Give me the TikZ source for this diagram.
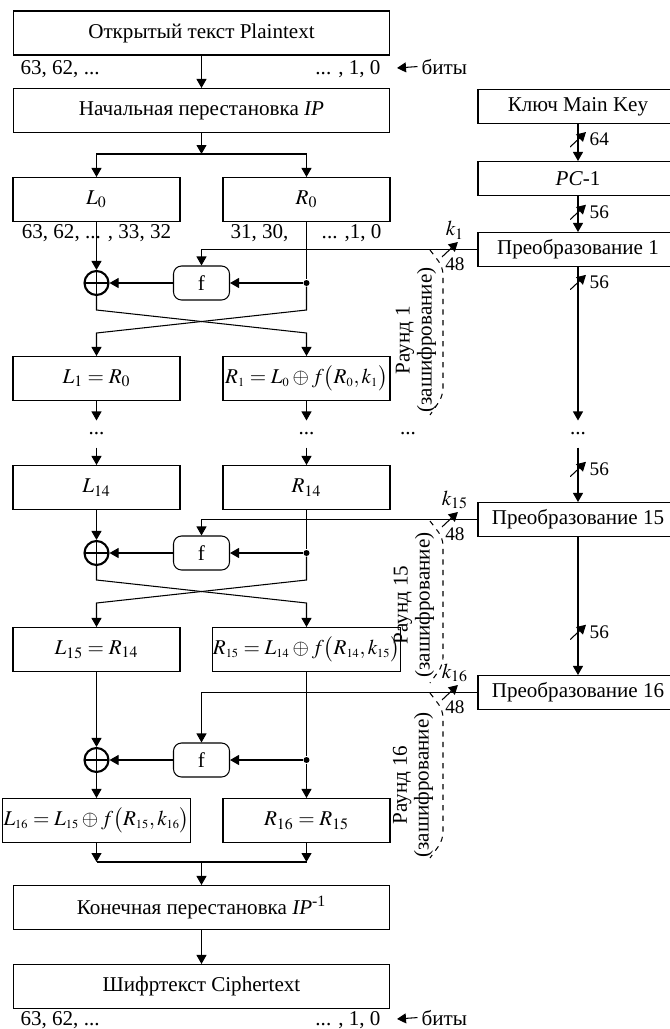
\documentclass[12pt,tikz,border=0pt]{standalone}
\usepackage{mathptmx}
\usepackage[no-math]{fontspec}
\setmainfont{Liberation Serif}
\usetikzlibrary{arrows.meta, positioning, calc}
\newcommand{\ssb}[1]{_{\scriptscriptstyle #1}}

\begin{document}
\begin{tikzpicture}[x=0.02cm, y=-0.02cm, line width=0.6pt,
    blk/.style={draw, minimum width=7.54cm, minimum height=0.88cm, inner sep=1pt},
    half/.style={draw, minimum width=3.34cm, minimum height=0.88cm, inner sep=0.5pt},
    kbox/.style={draw, minimum width=4cm, minimum height=0.68cm, inner sep=1pt},
    fbox/.style={draw, rounded corners=0.16cm, minimum width=1.12cm, minimum height=0.68cm},
    xorc/.style={circle, draw, line width=1.2pt, minimum size=0.48cm, inner sep=0,
                 path picture={\draw[line width=1pt] (path picture bounding box.west) -- (path picture bounding box.east)
                               (path picture bounding box.north) -- (path picture bounding box.south);}},
    dot/.style={circle, fill, inner sep=0, minimum size=0.12cm},
    arr/.style={-{Triangle[length=0.18cm, width=0.2cm]}},
    dts/.style={inner sep=0, minimum height=0.52cm},
    lbl/.style={inner sep=0},
    num/.style={font=\small, inner sep=1.5pt},
    bitcut/.style={inner sep=0, minimum width=0.32cm, minimum height=0.3cm,
                   path picture={\draw (path picture bounding box.south west) -- (path picture bounding box.north east);}},
    rnd/.style={dashed, rounded corners=0.15cm},
    rtxt/.style={rotate=90, align=center, inner sep=0, font=\fontsize{12}{12.5}\selectfont}
  ]
    \clip (0,0) rectangle (670,1029);

    % Main column
    \node[blk] (pt) at (201.5,33)  {Открытый текст Plaintext};
    \node[blk] (ip) at (201.5,110.5) {Начальная перестановка \textit{IP}};
    \node[half] (L0) at (96.5,199.5)  {$L_0$};
    \node[half] (R0) at (306.5,199.5) {$R_0$};

    % Bit labels
    \node[lbl, anchor=base west] at (20,74) {63, 62, ...};
    \node[lbl, anchor=base east] at (381,74) {... , 1, 0};
    \node[lbl, anchor=base west] (bits1) at (421,74) {биты};
    \coordinate (bt1) at (397,68);
    \node[lbl, anchor=base] at (96.5,238) {63, 62, ... , 33, 32};
    \node[lbl, anchor=base west] at (230,238) {31, 30,};
    \node[lbl, anchor=base east] at (382,238) {... ,1, 0};

    % Key column
    \node[kbox] (key) at (578,106.5) {Ключ Main Key};
    \node[kbox] (pc1) at (578,178.5) {\textit{PC}-1};
    \node[kbox] (t1)  at (578,249.5) {Преобразование 1};
    \node[dts]  (dk)  at (578,434) {...};
    \node[kbox] (t15) at (578,519.5) {Преобразование 15};
    \node[kbox] (t16) at (578,692.5) {Преобразование 16};

    % Round 1
    \node[xorc] (x1) at (96.5,283) {};
    \node[fbox] (f1) at (201.5,283) {f};
    \node[dot]  (d1) at (306.5,283) {};
    \coordinate (c1a) at (96.5,310);
    \coordinate (c1b) at (306.5,310);
    \coordinate (e1a) at (96.5,333);
    \coordinate (e1b) at (306.5,333);
    \node[half] (L1) at (96.5,378.5)  {$L_1 = R_0$};
    \node[half] (R1) at (306.5,378.5) {$R\ssb{1} = L\ssb{0} \oplus f\bigl(R\ssb{0}, k\ssb{1}\bigr)$};

    \node[dts] (dl) at (96.5,434) {...};
    \node[dts] (dr) at (306.5,434) {...};
    \node[dts] (dm) at (408,434) {...};

    \node[half] (L14) at (96.5,487.5)  {$L_{14}$};
    \node[half] (R14) at (306.5,487.5) {$R_{14}$};

    % Round 15
    \node[xorc] (x15) at (96.5,553) {};
    \node[fbox] (f15) at (201.5,553) {f};
    \node[dot]  (d15) at (306.5,553) {};
    \coordinate (c15a) at (96.5,580);
    \coordinate (c15b) at (306.5,580);
    \coordinate (e15a) at (96.5,603);
    \coordinate (e15b) at (306.5,603);
    \node[half] (L15) at (96.5,649.5)  {$L_{15} = R_{14}$};
    \node[half] (R15) at (306.5,649.5) {$R\ssb{15} = L\ssb{14} \oplus f\bigl(R\ssb{14}, k\ssb{15}\bigr)$};

    % Round 16
    \node[xorc] (x16) at (96.5,760) {};
    \node[fbox] (f16) at (201.5,760) {f};
    \node[dot]  (d16) at (306.5,760) {};
    \node[half] (L16) at (96.5,820.5)  {$L\ssb{16} = L\ssb{15} \oplus f\bigl(R\ssb{15}, k\ssb{16}\bigr)$};
    \node[half] (R16) at (306.5,820.5) {$R_{16} = R_{15}$};
    \coordinate (j0) at (96.5,862);
    \coordinate (j1) at (306.5,862);
    \coordinate (jm) at (201.5,862);

    \node[blk] (fp) at (201.5,907.5) {Конечная перестановка \textit{IP}\textsuperscript{-1}};
    \node[blk] (ct) at (201.5,986.5) {Шифртекст Ciphertext};
    \node[lbl, anchor=base west] at (20,1025) {63, 62, ...};
    \node[lbl, anchor=base east] at (381,1025) {... , 1, 0};
    \node[lbl, anchor=base west] (bits2) at (421,1025) {биты};
    \coordinate (bt2) at (397,1019);

    % Flow arrows
    \coordinate (s0) at (201.5,154);
    \draw[arr] (pt) -- (ip);
    \draw[arr] (ip) -- (s0);
    \draw[arr] (s0) -| (L0);
    \draw[arr] (s0) -| (R0);
    \draw[arr] ([xshift=-2pt]bits1.west) -- (bt1);
    \draw[arr] ([xshift=-2pt]bits2.west) -- (bt2);

    \draw[arr] (L0) -- (x1);
    \draw (R0) -- (d1);
    \draw[arr] (d1) -- (f1);
    \draw[arr] (f1) -- (x1);
    \draw[arr] (x1) -- (c1a) -- (e1b) -- (R1);
    \draw[arr] (d1) -- (c1b) -- (e1a) -- (L1);

    \foreach \a/\b in {L1/dl, R1/dr, dl/L14, dr/R14}
      \draw[arr] (\a) -- (\b);

    \draw[arr] (L14) -- (x15);
    \draw (R14) -- (d15);
    \draw[arr] (d15) -- (f15);
    \draw[arr] (f15) -- (x15);
    \draw[arr] (x15) -- (c15a) -- (e15b) -- (R15);
    \draw[arr] (d15) -- (c15b) -- (e15a) -- (L15);

    \draw[arr] (L15) -- (x16);
    \draw (R15) -- (d16);
    \draw[arr] (d16) -- (f16);
    \draw[arr] (f16) -- (x16);
    \draw[arr] (x16) -- (L16);
    \draw[arr] (d16) -- (R16);

    \draw[arr] (L16) -- (j0);
    \draw[arr] (R16) -- (j1);
    \draw (j0) -- (j1);
    \draw[arr] (jm) -- (fp);
    \draw[arr] (fp) -- (ct);

    % Key schedule
    \draw[arr] (key) -- node[bitcut, pos=.42, label={[num]east:64}] {} (pc1);
    \draw[arr] (pc1) -- node[bitcut, pos=.45, label={[num]east:56}] {} (t1);
    \draw[arr] (t1) -- node[bitcut, pos=.1, label={[num]east:56}] {} (dk);
    \draw[arr] (dk) -- node[bitcut, pos=.4, label={[num]east:56}] {} (t15);
    \draw[arr] (t15) -- node[bitcut, pos=.69, label={[num]east:56}] {} (t16);

    % Subkeys
    \draw[arr] (t1) -| node[bitcut, pos=.05,
        label={[lbl, anchor=south, xshift=0.1cm, yshift=1pt]north:$k_1$},
        label={[num, anchor=north, xshift=0.1cm, inner sep=0]south:48}] {} (f1);
    \draw[arr] (t15) -| node[bitcut, pos=.05,
        label={[lbl, anchor=south, xshift=0.1cm, yshift=1pt]north:$k_{15}$},
        label={[num, anchor=north, xshift=0.1cm, inner sep=0]south:48}] {} (f15);
    \draw[arr] (t16) -| node[bitcut, pos=.05,
        label={[lbl, anchor=south, xshift=0.1cm, yshift=1pt]north:$k_{16}$},
        label={[num, anchor=north, xshift=0.1cm, inner sep=0]south:48}] {} (f16);

    % Round brackets
    \draw[rnd] (430,250) -- (443,267) -- (443,396) -- (430,415);
    \draw[rnd] (430,521) -- (443,538) -- (443,665) -- (430,683);
    \draw[rnd] (430,693) -- (443,710) -- (443,840) -- (430,858);
    \node[rtxt] (rd1)  at (416,340) {Раунд 1\\(зашифрование)};
    \node[rtxt] (rd15) at (414,605) {Раунд 15\\(зашифрование)};
    \node[rtxt] (rd16) at (413,785) {Раунд 16\\(зашифрование)};

  \end{tikzpicture}
\end{document}
